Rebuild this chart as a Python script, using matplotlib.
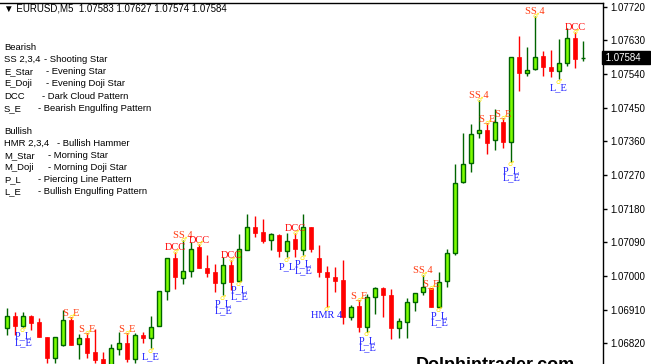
import matplotlib
matplotlib.use('Agg')
import matplotlib.pyplot as plt
import matplotlib.transforms as mtransforms
import numpy as np

# EURUSD M5 candles
opens = [1.06860, 1.06893, 1.06867, 1.06893, 1.06878, 1.06838, 1.06780, 1.06816, 1.06882, 1.06817,
         1.06834, 1.06797, 1.06778, 1.06762, 1.06804, 1.06820, 1.06777, 1.06842, 1.06833, 1.06867,
         1.06960, 1.07047, 1.06994, 1.07013, 1.07077, 1.07020, 1.07011, 1.06980, 1.07029, 1.06987,
         1.07069, 1.07130, 1.07117, 1.07096, 1.07110, 1.07068, 1.07099, 1.07069, 1.07130, 1.07047,
         1.07011, 1.06997, 1.06989, 1.06891, 1.06920, 1.06864, 1.06943, 1.06967, 1.06949, 1.06860,
         1.06878, 1.06931, 1.06956, 1.06967, 1.06918, 1.06987, 1.07061, 1.07252, 1.07301, 1.07381,
         1.07390, 1.07363, 1.07411, 1.07359, 1.07585, 1.07542, 1.07552, 1.07588, 1.07558, 1.07549,
         1.07568, 1.07635, 1.07583]
highs = [1.06914, 1.06903, 1.06905, 1.06896, 1.06887, 1.06838, 1.06836, 1.06909, 1.06890, 1.06845,
         1.06847, 1.06858, 1.06797, 1.06818, 1.06851, 1.06848, 1.06848, 1.06851, 1.06893, 1.06960,
         1.07047, 1.07065, 1.07096, 1.07092, 1.07085, 1.07056, 1.07032, 1.07052, 1.07043, 1.07112,
         1.07166, 1.07160, 1.07152, 1.07116, 1.07112, 1.07114, 1.07116, 1.07166, 1.07130, 1.07083,
         1.07027, 1.07025, 1.07043, 1.06922, 1.06936, 1.06952, 1.06971, 1.06971, 1.06965, 1.06887,
         1.06940, 1.06954, 1.07003, 1.06967, 1.07010, 1.07071, 1.07299, 1.07381, 1.07406, 1.07470,
         1.07408, 1.07447, 1.07422, 1.07585, 1.07641, 1.07611, 1.07695, 1.07601, 1.07604, 1.07633,
         1.07662, 1.07653, 1.07627]
lows = [1.06842, 1.06842, 1.06864, 1.06856, 1.06838, 1.06767, 1.06767, 1.06813, 1.06816, 1.06778,
        1.06781, 1.06767, 1.06757, 1.06757, 1.06789, 1.06771, 1.06767, 1.06820, 1.06807, 1.06867,
        1.06936, 1.06964, 1.06978, 1.06998, 1.07020, 1.06997, 1.06958, 1.06949, 1.06963, 1.06987,
        1.07069, 1.07105, 1.07087, 1.07069, 1.07052, 1.07050, 1.07050, 1.07056, 1.07064, 1.06997,
        1.06918, 1.06958, 1.06871, 1.06882, 1.06851, 1.06851, 1.06898, 1.06891, 1.06831, 1.06833,
        1.06833, 1.06907, 1.06949, 1.06918, 1.06917, 1.06971, 1.07056, 1.07249, 1.07277, 1.07368,
        1.07325, 1.07337, 1.07341, 1.07306, 1.07495, 1.07535, 1.07551, 1.07535, 1.07531, 1.07526,
        1.07562, 1.07557, 1.07574]
closes = [1.06893, 1.06867, 1.06893, 1.06875, 1.06838, 1.06780, 1.06836, 1.06882, 1.06816, 1.06833,
          1.06793, 1.06775, 1.06766, 1.06808, 1.06820, 1.06777, 1.06842, 1.06833, 1.06864, 1.06960,
          1.07047, 1.06997, 1.07013, 1.07071, 1.07020, 1.07009, 1.06980, 1.07029, 1.06985, 1.07071,
          1.07130, 1.07116, 1.07094, 1.07111, 1.07068, 1.07094, 1.07071, 1.07130, 1.07071, 1.07011,
          1.06997, 1.06987, 1.06891, 1.06916, 1.06864, 1.06943, 1.06967, 1.06949, 1.06860, 1.06879,
          1.06931, 1.06954, 1.06970, 1.06918, 1.06985, 1.07061, 1.07249, 1.07299, 1.07380, 1.07390,
          1.07356, 1.07411, 1.07359, 1.07585, 1.07542, 1.07551, 1.07585, 1.07558, 1.07549, 1.07568,
          1.07635, 1.07580, 1.07584]

price_ticks = [1.06820, 1.06910, 1.07000, 1.07090, 1.07180, 1.07270, 1.07360, 1.07450, 1.07540, 1.07630, 1.07720]

# pattern labels: candle index -> text
bear_idx = [8, 10, 15, 21, 22, 24, 28, 36, 44, 52, 53, 59, 60, 62, 66, 71]
bear_txt = ['S_E', 'S_E', 'S_E', 'DCC', 'SS 4', 'DCC', 'DCC', 'DCC', 'S_E', 'SS 4', 'S_E', 'SS 4', 'S_E', 'S_E', 'SS 4', 'DCC']
bull_idx = [2, 2, 18, 27, 27, 29, 29, 35, 37, 37, 40, 45, 45, 54, 54, 63, 63, 69]
bull_txt = ['P_L', 'L_E', 'L_E', 'P_L', 'L_E', 'P_L', 'L_E', 'P_L', 'P_L', 'L_E', 'HMR 4', 'P_L', 'L_E', 'P_L', 'L_E', 'P_L', 'L_E', 'L_E']

legend_bear = [('SS 2,3,4', '- Shooting Star'), ('E_Star', '- Evening Star'), ('E_Doji', '- Evening Doji Star'),
               ('DCC', '- Dark Cloud Pattern'), ('S_E', '- Bearish Engulfing Pattern')]
legend_bull = [('HMR 2,3,4', '- Bullish Hammer'), ('M_Star', '- Morning Star'), ('M_Doji', '- Morning Doji Star'),
               ('P_L', '- Piercing Line Pattern'), ('L_E', '- Bullish Engulfing Pattern')]

W, H = 651, 364
fig = plt.figure(figsize=(W / 100, H / 100), dpi=100)
fig.patch.set_facecolor('white')
ax = fig.add_axes([0, 0, 603 / W, (H - 2.7) / H])
ax.set_facecolor('white')

o = np.array(opens); h = np.array(highs); l = np.array(lows); c = np.array(closes)
x = np.arange(len(o))
up = c >= o

dark_green = '#006400'
lime = '#7cfc00'
# wicks
ax.vlines(x[up], l[up], h[up], color=dark_green, lw=1, zorder=2)
ax.vlines(x[~up], l[~up], h[~up], color='#ff0000', lw=1, zorder=2)
# bodies
ax.bar(x[up], np.maximum(c[up] - o[up], 0.000005), bottom=o[up], width=0.6,
       color=lime, edgecolor=dark_green, linewidth=1, zorder=3)
ax.bar(x[~up], o[~up] - c[~up], bottom=c[~up], width=0.62,
       color='#ff0000', edgecolor='#ff0000', linewidth=0.5, zorder=3)

ax.set_xlim(-0.875, 74.5)
ax.set_ylim(1.067647, 1.077305)

# pattern labels
for i, t in zip(bear_idx, bear_txt):
    col = '#ff0000' if t == 'DCC' else '#ff3a10'
    ax.annotate(t, xy=(i, h[i]), xytext=(0, 3), textcoords='offset points',
                ha='center', va='center', fontsize=7.5, family='Liberation Serif',
                color=col, zorder=5)
    ax.annotate('\u2642', xy=(i, h[i]), xytext=(0.5, 0), textcoords='offset points',
                ha='center', va='center', fontsize=5, color='#ffe600', zorder=6)

seen = {}
for i, t in zip(bull_idx, bull_txt):
    k = seen.get(i, 0)
    seen[i] = k + 1
    dy = -6.5 - 5 * k
    ax.annotate(t, xy=(i, l[i]), xytext=(0.7 * k, dy), textcoords='offset points',
                ha='center', va='center', fontsize=7.5, family='Liberation Serif',
                color='#1a1aff', zorder=5)
for i in sorted(set(bull_idx)):
    ax.annotate('\u2642', xy=(i, l[i]), xytext=(0, -2), textcoords='offset points',
                ha='center', va='center', fontsize=5, color='#ffe600', zorder=6)

# axes styling
for s in ['left', 'bottom']:
    ax.spines[s].set_visible(False)
for s in ['top', 'right']:
    ax.spines[s].set_color('black')
    ax.spines[s].set_linewidth(1)
ax.set_xticks([])
ax.yaxis.tick_right()
ax.set_yticks(price_ticks)
ax.set_yticklabels(['%.5f' % p for p in price_ticks])
ax.tick_params(axis='y', direction='out', length=3, width=1, pad=2, labelsize=7, colors='black')
for lab in ax.get_yticklabels():
    lab.set_family('Liberation Sans')

# current price box
trans = mtransforms.blended_transform_factory(ax.transAxes, ax.transData)
ax.text(1.0, c[-1], ' 1.07584   ', transform=trans, ha='left', va='center', fontsize=7,
        family='Liberation Sans', color='white', zorder=7, clip_on=False,
        bbox=dict(boxstyle='square,pad=0.12', fc='black', ec='black'))

# header
fig.text(4 / W, 1 - 8.5 / H, '\u25bc EURUSD,M5  1.07583 1.07627 1.07574 1.07584', fontsize=7,
         family=['Liberation Sans', 'DejaVu Sans'], va='center', ha='left')

# legend block
def legend_block(title, rows, y0, dash_x):
    fig.text(4 / W, 1 - y0 / H, title, fontsize=6.8, family='Liberation Sans', va='center')
    for n, (abbr, desc) in enumerate(rows):
        yy = y0 + 12.2 * (n + 1)
        fig.text(4 / W, 1 - yy / H, abbr, fontsize=6.8, family='Liberation Sans', va='center')
        fig.text(dash_x[n] / W, 1 - yy / H, desc, fontsize=6.8, family='Liberation Sans', va='center')

legend_block('Bearish', legend_bear, 47.3, [44, 46, 46, 42, 38])
legend_block('Bullish', legend_bull, 131, [57, 48, 48, 38, 38])

# watermark
fig.text(416 / W, 1 - 357 / H, 'Dolphintrader.com', fontsize=13, fontweight='bold',
         family='Liberation Sans', va='top', ha='left', color='black')

fig.savefig('out.png', dpi=100, facecolor='white')
